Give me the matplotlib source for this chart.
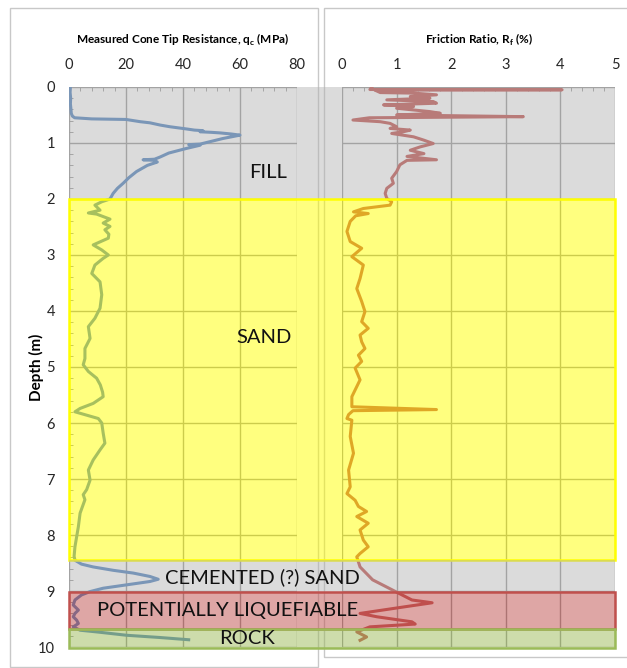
import matplotlib.pyplot as plt
from matplotlib.patches import Rectangle
from matplotlib.transforms import blended_transform_factory
from matplotlib.ticker import MultipleLocator

# cone tip resistance qc (MPa) against depth (m)
qc_depth = [0.00, 0.10, 0.20, 0.30, 0.40, 0.47, 0.52, 0.55, 0.57, 0.58, 0.62, 0.64, 0.68, 0.71,
            0.75, 0.77, 0.78, 0.80, 0.81, 0.82, 0.84, 0.86, 0.89, 0.92, 0.97, 1.02, 1.03, 1.04,
            1.10, 1.18, 1.25, 1.29, 1.30, 1.31, 1.34, 1.40, 1.51, 1.62, 1.72, 1.81, 1.90, 2.00,
            2.05, 2.11, 2.20, 2.25, 2.27, 2.36, 2.43, 2.49, 2.55, 2.63, 2.70, 2.82, 2.91, 3.00,
            3.06, 3.18, 3.33, 3.48, 3.71, 3.95, 4.13, 4.28, 4.49, 4.67, 4.85, 4.96, 5.08, 5.20,
            5.32, 5.45, 5.53, 5.65, 5.74, 5.80, 5.86, 5.92, 6.00, 6.18, 6.36, 6.48, 6.66, 6.84,
            7.02, 7.19, 7.28, 7.37, 7.61, 7.85, 8.03, 8.21, 8.38, 8.45, 8.52, 8.57, 8.63, 8.68,
            8.74, 8.79, 8.83, 8.89, 8.95, 9.01, 9.07, 9.16, 9.25, 9.34, 9.40, 9.46, 9.52, 9.58,
            9.64, 9.70, 9.73, 9.79, 9.83, 9.87]
qc_val = [0.5, 0.4, 0.6, 0.5, 0.7, 0.8, 1.2, 2.0, 8.0, 20.0, 25.0, 28.4, 32.0, 35.4,
          41.3, 44.0, 47.0, 46.0, 50.0, 53.0, 57.0, 60.0, 57.0, 54.0, 50.0, 46.0, 42.0, 46.0,
          41.0, 35.0, 32.0, 30.0, 26.0, 30.0, 31.0, 27.5, 23.7, 21.0, 19.0, 17.0, 15.5, 14.4,
          11.5, 9.1, 10.9, 6.8, 9.7, 14.4, 12.0, 14.4, 12.6, 14.0, 13.8, 8.5, 11.5, 13.8,
          12.0, 9.1, 8.0, 10.9, 11.5, 10.9, 9.1, 6.8, 7.4, 5.6, 5.6, 5.0, 6.8, 9.7,
          11.0, 11.8, 12.0, 8.5, 3.9, 2.1, 6.2, 10.3, 11.5, 12.0, 12.6, 10.9, 8.5, 6.8,
          7.4, 6.2, 5.0, 5.6, 3.9, 3.3, 2.7, 2.1, 1.8, 2.1, 4.4, 8.5, 15.5, 22.6,
          28.4, 31.3, 28.4, 20.2, 12.0, 7.4, 4.4, 2.1, 1.5, 3.3, 2.1, 1.5, 2.7, 3.3,
          1.5, 3.9, 9.7, 20.2, 31.9, 42.0]

# friction ratio Rf (%) against depth (m)
rf_depth = [0.00, 0.045, 0.05, 0.055, 0.10, 0.11, 0.14, 0.17, 0.20, 0.23, 0.26, 0.29, 0.32,
            0.35, 0.38, 0.44, 0.47, 0.50, 0.53, 0.55, 0.59, 0.62, 0.65, 0.71, 0.74, 0.77,
            0.80, 0.83, 0.89, 0.95, 1.01, 1.07, 1.13, 1.19, 1.24, 1.30, 1.31, 1.39, 1.51,
            1.63, 1.72, 1.81, 1.90, 1.99, 2.05, 2.11, 2.17, 2.23, 2.26, 2.30, 2.40, 2.58,
            2.76, 2.88, 3.03, 3.18, 3.42, 3.60, 3.83, 4.01, 4.19, 4.31, 4.43, 4.55, 4.67,
            4.79, 4.90, 5.02, 5.23, 5.53, 5.71, 5.76, 5.78, 5.85, 5.92, 5.95, 6.24, 6.54,
            6.84, 7.14, 7.26, 7.38, 7.49, 7.58, 7.67, 7.79, 7.91, 8.09, 8.21, 8.33, 8.39,
            8.57, 8.80, 8.98, 9.16, 9.21, 9.28, 9.40, 9.46, 9.55, 9.59, 9.64, 9.73, 9.82, 9.88]
rf_val = [0.55, 0.51, 4.03, 0.60, 0.70, 1.31, 1.73, 1.25, 1.61, 0.82, 1.67, 1.73, 0.76,
          1.31, 1.00, 1.61, 1.80, 1.00, 3.32, 0.50, 0.20, 0.70, 0.88, 1.00, 0.88, 1.25,
          1.12, 0.91, 1.31, 1.50, 1.67, 1.43, 1.25, 1.50, 1.19, 1.73, 1.19, 1.06, 1.00,
          0.91, 0.94, 0.82, 0.79, 0.82, 0.91, 0.88, 0.39, 0.21, 0.48, 0.25, 0.15, 0.09,
          0.15, 0.36, 0.18, 0.39, 0.33, 0.27, 0.36, 0.42, 0.36, 0.48, 0.33, 0.36, 0.42,
          0.30, 0.36, 0.24, 0.33, 0.18, 0.18, 1.73, 0.20, 0.12, 0.09, 0.18, 0.15, 0.21,
          0.12, 0.15, 0.09, 0.24, 0.30, 0.45, 0.27, 0.48, 0.33, 0.39, 0.48, 0.33, 0.27,
          0.33, 0.56, 0.92, 1.28, 1.65, 1.16, 0.33, 0.64, 1.28, 1.34, 0.51, 0.27, 0.45, 0.33]

# soil layers
layer_names = ['FILL', 'SAND', 'CEMENTED (?) SAND', 'POTENTIALLY LIQUEFIABLE', 'ROCK']
layer_top = [0.0, 2.0, 8.45, 9.02, 9.68]
layer_bot = [2.0, 8.45, 9.02, 9.68, 10.02]
layer_fill = [(0.69, 0.69, 0.69, 0.45), (1, 1, 0, 0.5), (0.69, 0.69, 0.69, 0.45),
              (0.75, 0.31, 0.30, 0.5), (0.61, 0.73, 0.35, 0.5)]
layer_edge = ['none', '#FFFF00', 'none', '#C0504D', '#9BBB59']

plt.rcParams['font.family'] = ['Lato', 'DejaVu Sans']

fig = plt.figure(figsize=(6.27, 6.68), dpi=100)
ax1 = fig.add_axes([0.110, 0.0314, 0.3637, 0.8384])
ax2 = fig.add_axes([0.5455, 0.0314, 0.4354, 0.8384])

ax1.plot(qc_val, qc_depth, color='#4F81BD', lw=2.2)
ax2.plot(rf_val, rf_depth, color='#C0504D', lw=2.2)

ax1.set_xlim(0, 80)
ax2.set_xlim(0, 5)
ax1.xaxis.set_major_locator(MultipleLocator(20))
ax1.xaxis.set_minor_locator(MultipleLocator(4))
ax2.xaxis.set_major_locator(MultipleLocator(1))
ax2.xaxis.set_minor_locator(MultipleLocator(0.2))

for ax in (ax1, ax2):
    ax.set_ylim(10, 0)
    ax.yaxis.set_major_locator(MultipleLocator(1))
    ax.yaxis.set_minor_locator(MultipleLocator(0.2))
    ax.xaxis.tick_top()
    ax.xaxis.set_label_position('top')
    ax.grid(True, which='major', color='#9A9A9A', lw=1)
    ax.set_axisbelow(True)
    for s in ax.spines.values():
        s.set_visible(False)
    ax.tick_params(which='both', direction='in', color='#8C8C8C', labelsize=10.5,
                   labelcolor='#262626')
    ax.tick_params(which='major', length=0, pad=11)
    ax.tick_params(which='minor', length=3)

ax2.tick_params(axis='y', which='both', left=False, labelleft=False)
ax1.tick_params(axis='y', pad=10)

ax1.set_xlabel('Measured Cone Tip Resistance, q$_\\mathregular{c}$ (MPa)',
               fontsize=8.5, fontweight='bold', labelpad=10)
ax2.set_xlabel('Friction Ratio, R$_\\mathregular{f}$ (%)',
               fontsize=8.5, fontweight='bold', labelpad=10)
ax1.set_ylabel('Depth (m)', fontsize=11, fontweight='bold', labelpad=-4)

# chart borders of the two original charts
fig.add_artist(Rectangle((0.016, 0.0015), 0.491, 0.9865, transform=fig.transFigure,
                         fill=False, ec='#C8C8C8', lw=1, zorder=1))
fig.add_artist(Rectangle((0.517, 0.0165), 0.5, 0.9715, transform=fig.transFigure,
                         fill=False, ec='#C8C8C8', lw=1, zorder=1))

# layer boxes spanning both charts
x0 = ax1.get_position().x0
x1 = ax2.get_position().x1
trans = blended_transform_factory(fig.transFigure, ax1.transData)
for top, bot, fc, ec in zip(layer_top, layer_bot, layer_fill, layer_edge):
    fig.add_artist(Rectangle((x0, top), x1 - x0, bot - top, transform=trans,
                             fc=fc, ec=ec, lw=1.8, zorder=5))

label_x = [69.8, 68.4, 67.7, 55.8, 62.5]
label_y = [1.52, 4.48, 8.75, 9.34, 9.84]
for name, lx, ly in zip(layer_names, label_x, label_y):
    fig.text(lx, ly, name, transform=ax1.transData, ha='center', va='center',
             fontsize=14.5, color='#111111', zorder=6)

fig.savefig('out.png', dpi=100)
